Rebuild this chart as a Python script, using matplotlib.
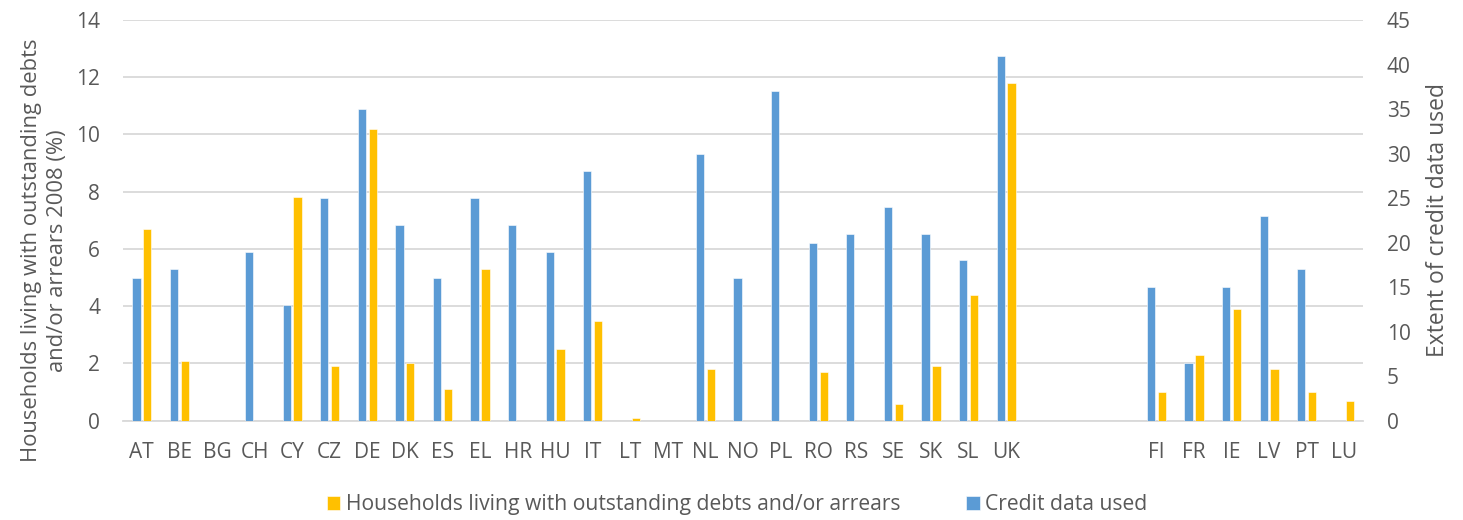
import matplotlib.pyplot as plt
import numpy as np

plt.rcParams['font.family'] = ['Open Sans', 'DejaVu Sans']

# three blank slots separate the two country groups
countries = ['AT', 'BE', 'BG', 'CH', 'CY', 'CZ', 'DE', 'DK', 'ES', 'EL', 'HR', 'HU',
             'IT', 'LT', 'MT', 'NL', 'NO', 'PL', 'RO', 'RS', 'SE', 'SK', 'SL', 'UK',
             '', '', '', 'FI', 'FR', 'IE', 'LV', 'PT', 'LU']
credit_data = [16, 17, 0, 19, 13, 25, 35, 22, 16, 25, 22, 19,
               28, 0, 0, 30, 16, 37, 20, 21, 24, 21, 18, 41,
               0, 0, 0, 15, 6.5, 15, 23, 17, 0]
households = [6.7, 2.1, 0, 0, 7.8, 1.9, 10.2, 2.0, 1.1, 5.3, 0, 2.5,
              3.5, 0.1, 0, 1.8, 0, 0, 1.7, 0, 0.6, 1.9, 4.4, 11.8,
              0, 0, 0, 1.0, 2.3, 3.9, 1.8, 1.0, 0.7]

blue = '#5B9BD5'
yellow = '#FFC000'
grid_c = '#D9D9D9'
txt_c = '#595959'

fig = plt.figure(figsize=(14.63, 5.2), dpi=100)
ax = fig.add_axes([0.0841, 0.191, 0.8476, 0.7705])
ax2 = ax.twinx()

x = np.arange(len(countries))
w = 0.22
off = 0.145

ax2.bar(x - off, credit_data, width=w, color=blue, edgecolor='white', linewidth=0.4,
        label='Credit data used', zorder=3)
ax.bar(x + off, households, width=w, color=yellow, edgecolor='white', linewidth=0.4,
       label='Households living with outstanding debts and/or arrears', zorder=3)

ax.set_xlim(-0.5, len(countries) - 0.5)
ax.set_ylim(0, 14)
ax2.set_ylim(0, 45)
ax.set_yticks(np.arange(0, 15, 2))
ax2.set_yticks(np.arange(0, 46, 5))
ax.set_xticks(x)
ax.set_xticklabels(countries)

ax.grid(axis='y', color=grid_c, linewidth=1.3, zorder=0)
ax.set_axisbelow(True)
for a in (ax, ax2):
    for s in a.spines.values():
        s.set_visible(False)
    a.tick_params(length=0, labelsize=15, colors=txt_c)
ax.spines['bottom'].set_visible(True)
ax.spines['bottom'].set_color(grid_c)
ax.spines['bottom'].set_linewidth(1.3)
ax.tick_params(axis='x', pad=15)
ax.tick_params(axis='y', pad=16.5)
ax2.tick_params(axis='y', pad=17)

ax.set_ylabel('Households living with outstanding debts\nand/or arrears 2008 (%)',
              fontsize=15.8, color=txt_c, linespacing=1.33)
ax.yaxis.set_label_coords(-0.044, 0.425)
ax2.set_ylabel('Extent of credit data used', fontsize=16.5, color=txt_c, labelpad=11)

h1, l1 = ax.get_legend_handles_labels()
h2, l2 = ax2.get_legend_handles_labels()
fig.legend(h1 + h2, l1 + l2, loc='center left', bbox_to_anchor=(0.2233, 0.029), ncol=2,
           frameon=False, fontsize=15.2, labelcolor=txt_c, borderpad=0, borderaxespad=0,
           handlelength=0.64, handleheight=0.64, handletextpad=0.28, columnspacing=3.1)

fig.savefig('out.png', dpi=100)
